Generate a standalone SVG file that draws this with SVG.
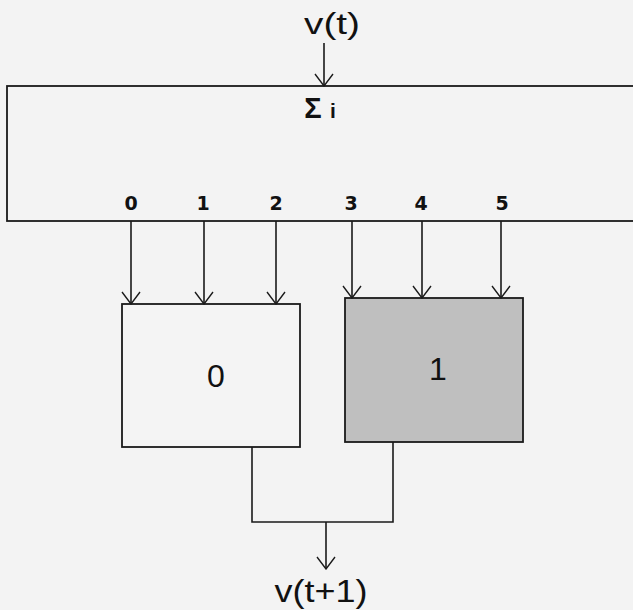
<svg xmlns="http://www.w3.org/2000/svg" width="633" height="610" viewBox="0 0 633 610">
<style>
.ln{stroke:#1a1a1a;stroke-width:1.6;fill:none}
.box{stroke:#1a1a1a;stroke-width:1.8}
.t{font-family:"Liberation Sans",Arial,sans-serif;fill:#111}
.idx{font-family:"DejaVu Sans",Verdana,sans-serif;font-weight:bold;font-size:19px;fill:#111;text-anchor:middle}
</style>
<defs>
<marker id="ah" viewBox="0 0 14 20" refX="13" refY="10" markerWidth="14" markerHeight="20" markerUnits="userSpaceOnUse" orient="auto">
<path d="M1,1 L13,10 L1,19" fill="none" stroke="#1a1a1a" stroke-width="1.4"/>
</marker>
</defs>
<rect width="633" height="610" fill="#f3f3f3"/>
<g id="sum">
<rect x="7" y="86" width="640" height="135" fill="#f3f3f3" class="box"/>
<text x="313" y="118" class="t" font-size="29" font-weight="bold" text-anchor="middle">Σ</text>
<text x="333" y="118" class="t" font-size="21" font-weight="bold" text-anchor="middle">i</text>
<text x="131" y="210" class="idx">0</text>
<text x="203" y="210" class="idx">1</text>
<text x="276" y="210" class="idx">2</text>
<text x="351" y="210" class="idx">3</text>
<text x="421" y="210" class="idx">4</text>
<text x="502" y="210" class="idx">5</text>
</g>
<g id="in">
<text x="332" y="34" class="t" font-size="30" text-anchor="middle" textLength="56" lengthAdjust="spacingAndGlyphs">v(t)</text>
</g>
<g id="box0">
<rect x="122" y="304" width="178" height="143" fill="#f4f4f4" class="box"/>
<text x="216" y="387" class="t" font-size="32" text-anchor="middle">0</text>
</g>
<g id="box1">
<rect x="345" y="298" width="178" height="144" fill="#bfbfbf" class="box"/>
<text x="438" y="380" class="t" font-size="32" text-anchor="middle">1</text>
</g>
<g id="out">
<text x="321" y="602" class="t" font-size="31" text-anchor="middle" textLength="93" lengthAdjust="spacingAndGlyphs">v(t+1)</text>
</g>
<g id="connectors">
<line x1="324" y1="43" x2="324" y2="86" class="ln" marker-end="url(#ah)"/>
<line x1="131" y1="221" x2="131" y2="304" class="ln" marker-end="url(#ah)"/>
<line x1="204" y1="221" x2="204" y2="304" class="ln" marker-end="url(#ah)"/>
<line x1="276" y1="221" x2="276" y2="304" class="ln" marker-end="url(#ah)"/>
<line x1="352" y1="221" x2="352" y2="298" class="ln" marker-end="url(#ah)"/>
<line x1="422" y1="221" x2="422" y2="298" class="ln" marker-end="url(#ah)"/>
<line x1="501" y1="221" x2="501" y2="298" class="ln" marker-end="url(#ah)"/>
<polyline points="252,447 252,522 393,522 393,442" class="ln"/>
<line x1="326" y1="522" x2="326" y2="569" class="ln" marker-end="url(#ah)"/>
</g>
</svg>
